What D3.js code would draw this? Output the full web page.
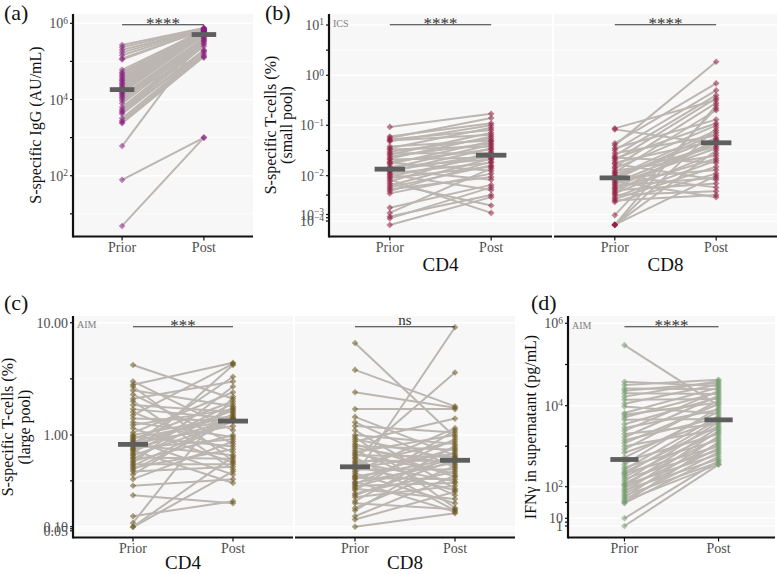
<!DOCTYPE html>
<html>
<head>
<meta charset="utf-8">
<script src="https://d3js.org/d3.v7.min.js"></script>
<style>
  body { margin: 0; background: #fff; }
  svg, svg text { font-family: "Liberation Serif", "Times New Roman", Times, "DejaVu Serif", serif; }
</style>
</head>
<body>
<div id="chart"></div>
<script>
// ---- DATA (paired samples, index i = same donor) ----
var groups = ["Prior", "Post"];

// (a) S-specific IgG (AU/mL)
var igPrior = [270000, 234000, 200000, 170000, 145000, 120000, 112000, 60000, 52000, 48000, 43000, 40000, 36000, 33000,
  31000, 28000, 26000, 24000, 22000, 20000, 19000, 17400, 15800, 14800, 13800, 12600, 11500, 10500, 9300, 7900,
  6300, 5500, 5000, 4600, 4200, 3200, 2750, 2500, 2400, 600, 78, 4.8];
var igPost = [759000, 741000, 708000, 724000, 692000, 661000, 676000, 646000, 631000, 708000, 617000, 631000, 603000, 589000,
  513000, 575000, 562000, 550000, 468000, 537000, 525000, 513000, 501000, 490000, 126000, 417000, 398000, 372000, 355000, 331000,
  302000, 282000, 251000, 200000, 191000, 178000, 158000, 141000, 132000, 447000, 1000, 1000];

// (b) ICS, small pool (%)
var icsCD4Prior = [0.093, 0.060, 0.056, 0.052, 0.050, 0.048, 0.038, 0.035, 0.033, 0.030, 0.028, 0.026, 0.024, 0.022,
  0.021, 0.019, 0.018, 0.017, 0.015, 0.014, 0.013, 0.0126, 0.012, 0.011, 0.0105, 0.0095, 0.0087, 0.0079, 0.0071, 0.0063,
  0.0056, 0.005, 0.0045, 0.004, 0.0035, 0.0015, 0.0011, 0.0005, 0.00025, 0.000025];
var icsCD4Post = [0.17, 0.11, 0.14, 0.081, 0.065, 0.10, 0.050, 0.089, 0.038, 0.055, 0.028, 0.071, 0.044, 0.060,
  0.023, 0.033, 0.0126, 0.048, 0.021, 0.041, 0.0079, 0.026, 0.035, 0.018, 0.0043, 0.025, 0.015, 0.0011, 0.030, 0.0017,
  0.022, 0.016, 0.0093, 0.019, 0.011, 0.0058, 0.014, 0.0032, 0.005, 0.0028];
var icsCD8Prior = [0.087, 0.083, 0.044, 0.040, 0.035, 0.032, 0.028, 0.025, 0.023, 0.022, 0.020, 0.018, 0.017, 0.015,
  0.014, 0.0126, 0.0117, 0.011, 0.0102, 0.0095, 0.0091, 0.0085, 0.0079, 0.0072, 0.0066, 0.006, 0.0055, 0.005, 0.0046, 0.0042,
  0.0038, 0.0035, 0.0032, 0.0028, 0.0025, 0.0023, 0.0021, 0.0008, 0.000025, 0.000025, 0.000025, 0.000028];
var icsCD8Post = [0.32, 0.042, 0.69, 1.86, 0.13, 0.50, 0.063, 0.40, 0.018, 0.11, 0.35, 0.050, 0.0079, 0.28,
  0.10, 0.025, 0.20, 0.038, 0.005, 0.079, 0.056, 0.013, 0.071, 0.0028, 0.046, 0.035, 0.0089, 0.044, 0.022, 0.0063,
  0.052, 0.028, 0.004, 0.020, 0.015, 0.0032, 0.011, 0.22, 0.25, 0.089, 0.032, 0.010];

// (c) AIM, large pool (%)
var aimCD4Prior = [4.2, 3.0, 2.8, 2.7, 2.5, 2.3, 2.1, 2.0, 1.85, 1.7, 1.6, 1.5, 1.4, 1.3, 1.23, 1.15, 1.05, 1.0, 0.97, 0.93,
  0.9, 0.87, 0.84, 0.82, 0.8, 0.78, 0.75, 0.72, 0.7, 0.68, 0.65, 0.62, 0.6, 0.57, 0.55, 0.52, 0.5, 0.48, 0.46, 0.44,
  0.42, 0.4, 0.37, 0.33, 0.28, 0.22, 0.13, 0.11, 0.10, 0.095];
var aimCD4Post = [2.1, 1.1, 4.4, 0.52, 1.8, 0.8, 3.0, 0.42, 1.6, 1.4, 0.65, 4.3, 1.34, 0.95, 1.7, 0.5, 2.4, 1.45, 0.75, 1.36,
  2.0, 0.37, 1.5, 1.2, 3.3, 0.6, 1.65, 0.9, 1.38, 0.3, 1.9, 4.2, 1.32, 0.55, 1.75, 1.0, 2.7, 0.48, 1.42, 0.7,
  1.35, 0.45, 1.55, 0.85, 0.33, 0.18, 0.19, 2.2, 0.58, 0.4];
var aimCD8Prior = [6.6, 3.8, 2.4, 1.7, 1.45, 1.3, 1.2, 1.1, 1.0, 0.95, 0.9, 0.85, 0.8, 0.76, 0.72, 0.68, 0.65, 0.62, 0.6, 0.57,
  0.55, 0.52, 0.5, 0.48, 0.46, 0.44, 0.42, 0.4, 0.38, 0.36, 0.35, 0.34, 0.33, 0.31, 0.3, 0.29, 0.28, 0.27, 0.26, 0.25,
  0.23, 0.22, 0.21, 0.19, 0.18, 0.16, 0.15, 0.13, 0.12, 0.10];
var aimCD8Post = [0.95, 1.8, 1.75, 1.7, 0.6, 0.44, 1.05, 0.26, 0.8, 0.16, 0.54, 1.4, 0.35, 0.69, 0.48, 0.22, 1.0, 0.38, 0.58, 0.15,
  3.6, 0.525, 0.31, 0.85, 0.25, 0.63, 0.42, 1.15, 0.18, 9.1, 0.55, 0.33, 0.72, 0.145, 0.5, 0.9, 0.3, 0.56, 0.2, 1.1,
  0.4, 0.535, 0.28, 0.76, 0.155, 0.46, 0.66, 0.36, 0.24, 0.14];

// (d) IFN-gamma in supernatant (pg/mL)
var ifnPrior = [295000, 38000, 32000, 26000, 23000, 20000, 16600, 14000, 11200, 9500, 6600, 6000, 5200, 4500, 3500, 2800,
  2400, 2000, 1660, 1400, 1200, 1000, 830, 690, 525, 420, 355, 300, 265, 230, 215, 200, 178, 158, 138, 120, 112, 105,
  91, 79, 69, 60, 52, 46, 40, 35, 32, 30, 10, 1];
var ifnPost = [10000, 30200, 42700, 25100, 36300, 19100, 39800, 14500, 33100, 6300, 27500, 12000, 20900, 4700, 15800, 7900,
  22900, 3550, 17400, 5000, 11000, 2630, 13200, 4370, 7100, 2000, 8900, 1410, 5600, 3160, 1000, 4570, 2190, 790, 3980, 1580,
  630, 2880, 1120, 480, 2400, 890, 400, 1780, 710, 360, 1260, 550, 440, 350];

// tick breaks
var igTicks = [1e6, 1e4, 1e2];
var icsTicks = [10, 1, 0.1, 0.01, 0.001, 0.0001];
var aimTicks = [10, 1, 0.1, 0.05];
var aimTickLabels = ["10.00", "1.00", "0.10", "0.05"];
var ifnTicks = [1e6, 1e4, 1e2, 10, 1];

// ---- SVG ----
var svgWidth = 777;
var svgHeight = 574;
var serif = "'Liberation Serif', 'Times New Roman', Times, 'DejaVu Serif', serif";

var svg = d3.select("#chart")
  .append("svg")
  .attr("width", svgWidth)
  .attr("height", svgHeight)
  .attr("font-family", serif);

var lineColor = "#bcb6b1";
var axisColor = "#111";
var textGrey = "#4d4d4d";

// y scales: breaks are spaced as in the source figure (log axis with squeezed low end)
var yA = d3.scaleLog().domain([1e2, 1e6]).range([175.7, 23.3]);
var yBlin = d3.scaleLinear().domain([-4, -3, -2, -1, 0, 1]).range([221, 214.5, 175.7, 125.3, 75.3, 25]);
var yB = v => yBlin(Math.log10(v));
var yClin = d3.scaleLinear().domain([Math.log10(0.05), -1, 0, 1]).range([530.8, 526.7, 435, 322.7]);
var yC = v => yClin(Math.log10(v));
var yDlin = d3.scaleLinear().domain([0, 1, 2, 4, 6]).range([526, 518.3, 486.7, 405.7, 323.3]);
var yD = v => yDlin(Math.log10(v));

// minor breaks = midpoints between majors in transformed space
function minorsOf(ticks, extra) {
  var m = [];
  for (var i = 0; i < ticks.length - 1; i++) {
    m.push(Math.pow(10, (Math.log10(ticks[i]) + Math.log10(ticks[i + 1])) / 2));
  }
  return m.concat(extra || []);
}

function supLabel(t, v) {
  var e = Math.round(Math.log10(v));
  t.append("tspan").text("10");
  t.append("tspan").attr("dy", "-0.5em").attr("font-size", "9.5px")
    .text(e < 0 ? "\u2212" + (-e) : e);
}

function drawYAxis(x, top, bottom, y, ticks, minors, labelFn) {
  var g = svg.append("g");
  ticks.concat(minors).forEach(function(v) {
    g.append("line").attr("x1", x - 3).attr("x2", x)
      .attr("y1", y(v)).attr("y2", y(v))
      .attr("stroke", axisColor).attr("stroke-width", 1.2);
  });
  ticks.forEach(function(v, i) {
    var t = g.append("text")
      .attr("x", x - 5).attr("y", y(v)).attr("dy", "0.36em")
      .attr("text-anchor", "end").attr("font-size", "14px").attr("fill", textGrey);
    labelFn(t, v, i);
  });
  g.append("line").attr("x1", x).attr("x2", x).attr("y1", top).attr("y2", bottom + 1)
    .attr("stroke", axisColor).attr("stroke-width", 2.2);
}

function facet(x0, x1, top, bottom, y, ticks, minors, prior, post, color, sig) {
  var g = svg.append("g");
  var x = d3.scalePoint().domain(groups).range([x0, x1]).padding(0.6);
  var step = x.step();

  g.append("rect").attr("x", x0).attr("y", top).attr("width", x1 - x0).attr("height", bottom - top)
    .attr("fill", "#f7f7f7");

  minors.forEach(function(v) {
    g.append("line").attr("x1", x0).attr("x2", x1).attr("y1", y(v)).attr("y2", y(v))
      .attr("stroke", "#fff").attr("stroke-width", 0.8);
  });
  ticks.forEach(function(v) {
    g.append("line").attr("x1", x0).attr("x2", x1).attr("y1", y(v)).attr("y2", y(v))
      .attr("stroke", "#fff").attr("stroke-width", 1.5);
  });

  var pairs = prior.map((d, i) => ({ a: d, b: post[i] }));

  g.append("g").selectAll("line")
    .data(pairs)
    .enter()
    .append("line")
    .attr("x1", x("Prior")).attr("x2", x("Post"))
    .attr("y1", d => y(d.a)).attr("y2", d => y(d.b))
    .attr("stroke", lineColor).attr("stroke-width", 2);

  var pts = [];
  pairs.forEach(function(d) {
    pts.push({ g: "Prior", v: d.a });
    pts.push({ g: "Post", v: d.b });
  });
  var diamond = d3.symbol().type(d3.symbolSquare).size(22);
  g.append("g").selectAll("path")
    .data(pts)
    .enter()
    .append("path")
    .attr("d", diamond)
    .attr("transform", d => `translate(${x(d.g)},${y(d.v)}) rotate(45)`)
    .attr("fill", color)
    .attr("opacity", 0.55);

  // medians (computed on log scale)
  [["Prior", prior], ["Post", post]].forEach(function(p) {
    var med = Math.pow(10, d3.median(p[1], v => Math.log10(v)));
    g.append("rect")
      .attr("x", x(p[0]) - 0.15 * step).attr("width", 0.3 * step)
      .attr("y", y(med) - 2.4).attr("height", 4.8)
      .attr("fill", "#5e5e5e");
  });

  // bottom axis
  g.append("line").attr("x1", x0).attr("x2", x1).attr("y1", bottom).attr("y2", bottom)
    .attr("stroke", axisColor).attr("stroke-width", 2.2);
  groups.forEach(function(k) {
    g.append("line").attr("x1", x(k)).attr("x2", x(k)).attr("y1", bottom).attr("y2", bottom + 4)
      .attr("stroke", axisColor).attr("stroke-width", 1.2);
    g.append("text").attr("x", x(k)).attr("y", bottom + 15)
      .attr("text-anchor", "middle").attr("font-size", "14px").attr("fill", textGrey)
      .text(k);
  });

  // significance bracket
  var sy = top + 10.7;
  g.append("line").attr("x1", x("Prior")).attr("x2", x("Post")).attr("y1", sy).attr("y2", sy)
    .attr("stroke", "#333").attr("stroke-width", 1.1);
  g.append("text").attr("x", (x("Prior") + x("Post")) / 2)
    .attr("y", sig === "ns" ? sy - 1.5 : sy + 4)
    .attr("text-anchor", "middle").attr("font-size", sig === "ns" ? "15px" : "17px").attr("fill", "#333")
    .text(sig);
  return g;
}

function tag(x, yy, s) {
  svg.append("text").attr("x", x).attr("y", yy).attr("font-size", "22px").attr("fill", "#111").text(s);
}
function corner(x, yy, s) {
  svg.append("text").attr("x", x).attr("y", yy).attr("font-size", "10px").attr("fill", "#808080").text(s);
}
function ytitle(x, yy, s) {
  svg.append("text").attr("transform", `translate(${x},${yy}) rotate(-90)`)
    .attr("text-anchor", "middle").attr("dominant-baseline", "central")
    .attr("font-size", "16px").attr("fill", "#111").text(s);
}
function facetLabel(x, yy, s) {
  svg.append("text").attr("x", x).attr("y", yy).attr("text-anchor", "middle")
    .attr("font-size", "19px").attr("fill", "#111").text(s);
}

// ---- (a) ----
var topA = 14, botA = 236.5;
facet(73, 253, topA, botA, yA, igTicks, minorsOf(igTicks, [10]), igPrior, igPost, "#8b1f7f", "****");
drawYAxis(73, topA, botA, yA, igTicks, minorsOf(igTicks, [10]), supLabel);
ytitle(35.5, 125, "S-specific IgG (AU/mL)");
tag(4, 20, "(a)");

// ---- (b) ----
var icsMinors = minorsOf(icsTicks);
facet(329, 552, topA, botA, yB, icsTicks, icsMinors, icsCD4Prior, icsCD4Post, "#8f1d3f", "****");
facet(554, 777, topA, botA, yB, icsTicks, icsMinors, icsCD8Prior, icsCD8Post, "#8f1d3f", "****");
drawYAxis(329, topA, botA, yB, icsTicks, icsMinors, supLabel);
ytitle(270, 125, "S-specific T-cells (%)");
ytitle(286, 125, "(small pool)");
facetLabel(440.5, 271, "CD4");
facetLabel(665.5, 271, "CD8");
corner(333, 26.5, "ICS");
tag(265, 20, "(b)");

// ---- (c) ----
var topC = 316, botC = 537.5;
var aimMinors = minorsOf(aimTicks);
facet(73, 293, topC, botC, yC, aimTicks, aimMinors, aimCD4Prior, aimCD4Post, "#6b5720", "***");
facet(295, 515, topC, botC, yC, aimTicks, aimMinors, aimCD8Prior, aimCD8Post, "#6b5720", "ns");
drawYAxis(73, topC, botC, yC, aimTicks, aimMinors, (t, v, i) => t.text(aimTickLabels[i]));
ytitle(7.5, 427, "S-specific T-cells (%)");
ytitle(24, 427, "(large pool)");
facetLabel(183, 569, "CD4");
facetLabel(405, 569, "CD8");
corner(77, 328, "AIM");
tag(4, 310, "(c)");

// ---- (d) ----
var ifnMinors = minorsOf(ifnTicks);
facet(568, 775, topC, botC, yD, ifnTicks, ifnMinors, ifnPrior, ifnPost, "#739d6b", "****");
drawYAxis(568, topC, botC, yD, ifnTicks, ifnMinors, function(t, v) {
  if (v >= 100) supLabel(t, v); else t.text(v);
});
ytitle(530, 427, "IFN\u03b3 in supernatant (pg/mL)");
corner(572, 329, "AIM");
tag(531, 310, "(d)");
</script>
</body>
</html>
